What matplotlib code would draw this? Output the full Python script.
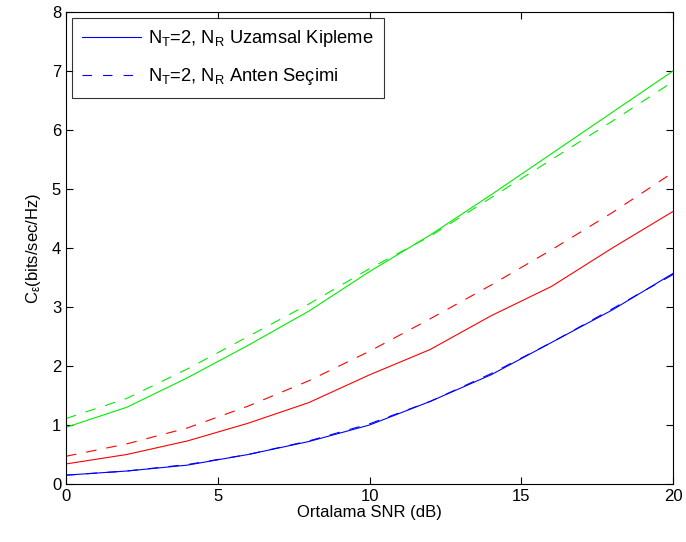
import numpy as np
import matplotlib
matplotlib.use('Agg')
import matplotlib.pyplot as plt

plt.rcParams['font.family'] = ['Liberation Sans', 'DejaVu Sans']
plt.rcParams['mathtext.fontset'] = 'custom'
plt.rcParams['mathtext.rm'] = 'Liberation Sans'
plt.rcParams['mathtext.it'] = 'Liberation Sans'

snr = [0, 2, 4, 6, 8, 10, 12, 14, 16, 18, 20]
# blue
sm_blue = [0.15, 0.22, 0.32, 0.50, 0.72, 1.00, 1.40, 1.85, 2.40, 2.95, 3.57]
as_blue = [0.15, 0.22, 0.33, 0.50, 0.73, 1.02, 1.40, 1.87, 2.40, 2.97, 3.55]
# red
sm_red = [0.34, 0.50, 0.73, 1.03, 1.38, 1.85, 2.28, 2.85, 3.35, 4.00, 4.62]
as_red = [0.47, 0.68, 0.95, 1.32, 1.75, 2.25, 2.80, 3.37, 3.97, 4.60, 5.28]
# green
sm_green = [0.96, 1.30, 1.80, 2.35, 2.93, 3.60, 4.22, 4.90, 5.60, 6.30, 7.00]
as_green = [1.11, 1.45, 1.95, 2.50, 3.05, 3.65, 4.20, 4.85, 5.50, 6.15, 6.82]

fig = plt.figure(figsize=(6.86, 5.42), dpi=100)
ax = fig.add_axes([0.0962, 0.107, 0.885, 0.871])

dsh = (9.5, 9)
ax.plot(snr, sm_blue, '-', color='b', lw=0.8, label='N$_T$=2, N$_R$ Uzamsal Kipleme')
ax.plot(snr, as_blue, '--', color='b', lw=0.8, dashes=dsh, label='N$_T$=2, N$_R$ Anten Seçimi')
ax.plot(snr, sm_red, '-', color='r', lw=0.8)
ax.plot(snr, as_red, '--', color='r', lw=0.8, dashes=dsh)
ax.plot(snr, sm_green, '-', color='#00ee00', lw=0.8)
ax.plot(snr, as_green, '--', color='#00ee00', lw=0.8, dashes=dsh)

ax.set_xlim(0, 20)
ax.set_ylim(0, 8)
ax.set_xticks([0, 5, 10, 15, 20])
ax.set_yticks(range(0, 9))
ax.tick_params(direction='in', top=True, right=True, labelsize=12, length=5)
ax.set_xlabel('Ortalama SNR (dB)', fontsize=12, labelpad=1)
ax.set_ylabel('C$_\\epsilon$(bits/sec/Hz)', fontsize=12, labelpad=6)

leg = ax.legend(loc='upper left', fontsize=13.2, fancybox=False, edgecolor='k',
                handlelength=3.2, borderaxespad=0.33, labelspacing=0.95,
                handletextpad=0.4, borderpad=0.55)
leg.get_frame().set_linewidth(0.8)
for h in leg.get_lines()[1:]:
    h.set_dashes((8.5, 10))

fig.savefig('out.png', dpi=100)
